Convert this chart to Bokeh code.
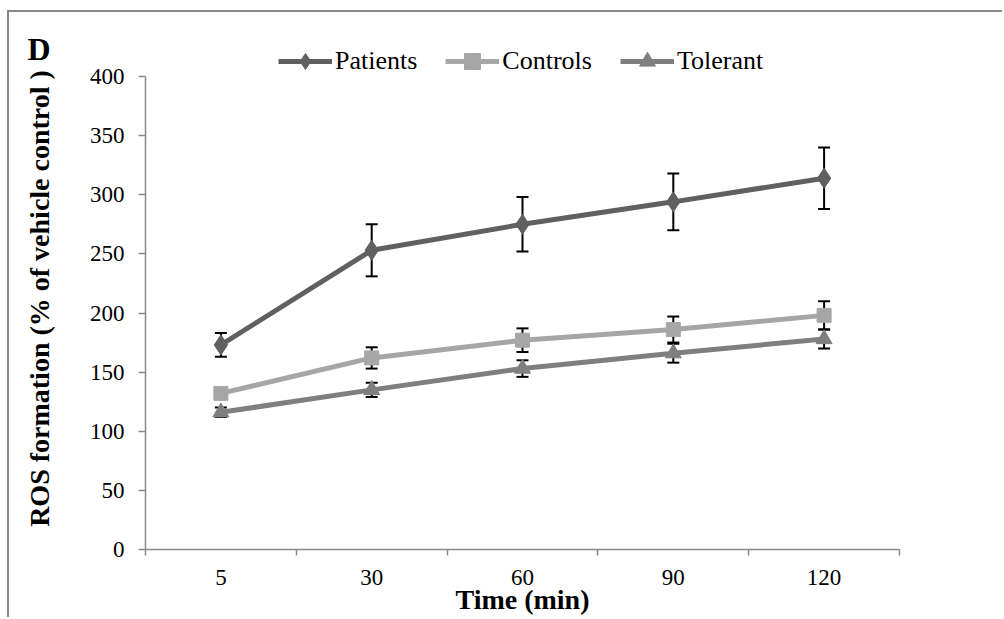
import math
from bokeh.plotting import figure
from bokeh.layouts import row
from bokeh.models import (ColumnDataSource, Whisker, TeeHead, FixedTicker, Legend,
                          LegendItem)
from bokeh.core.properties import value
from bokeh.embed import file_html
from bokeh.resources import INLINE

times = ["5", "30", "60", "90", "120"]
patients = [173, 253, 275, 294, 314]
patients_err = [10, 22, 23, 24, 26]
controls = [132, 162, 177, 186, 198]
controls_err = [3, 9, 10, 11, 12]
tolerant = [116, 135, 153, 166, 178]
tolerant_err = [4, 6, 7, 8, 8]
y_ticks = list(range(0, 401, 50))
panel_letter = "D"
y_title = "ROS formation (% of vehicle control )"
x_title = "Time (min)"

xs = [i + 0.5 for i in range(len(times))]
FONT = "Liberation Serif"
H = 607
TOP, BOTTOM = 15, 70          # shared frame borders of both panels
FRAME_H = H - TOP - BOTTOM    # 522 px
Y_END = 400 * FRAME_H / 473   # 400 sits 473 px above the x axis

# ---- left strip: panel letter and y-axis title (pixel-unit scales) ----
pa = figure(width=79, height=H, output_backend="svg", toolbar_location=None,
            x_range=(0, 79), y_range=(0, FRAME_H),
            min_border_left=0, min_border_right=0, min_border_top=TOP, min_border_bottom=BOTTOM)
pa.margin = (10, 0, 0, 7)
pa.styles = {"border-top": "2px solid #888888", "border-left": "2px solid #888888"}
pa.axis.visible = False
pa.grid.visible = False
pa.outline_line_color = None
pa.border_fill_color = "white"
pa.text(x=[18], y=[501], text=[panel_letter], text_font=value(FONT),
        text_font_size="32px", text_font_style="bold", text_color="black",
        text_align="left", text_baseline="alphabetic")
pa.text(x=[30], y=[251], text=[y_title], angle=math.pi / 2, text_font=value(FONT),
        text_font_size="28px", text_font_style="bold", text_color="black",
        text_align="center", text_baseline="alphabetic")

# ---- main chart ----
p = figure(width=916, height=H, output_backend="svg", toolbar_location=None,
           x_range=(0, len(times)), y_range=(0, Y_END),
           min_border_left=57, min_border_right=103, min_border_top=TOP, min_border_bottom=BOTTOM)
p.margin = (10, 0, 0, 0)
p.styles = {"border-top": "2px solid #888888"}
p.grid.visible = False
p.outline_line_color = None
p.background_fill_color = "white"
p.border_fill_color = "white"

series = [
    ("Patients", patients, patients_err, "#606060", "diamond", 20),
    ("Controls", controls, controls_err, "#a6a6a6", "square", 14),
    ("Tolerant", tolerant, tolerant_err, "#7f7f7f", "triangle", 16),
]

items = []
for name, vals, errs, col, marker, size in series:
    src = ColumnDataSource(dict(x=xs, y=vals,
                                upper=[v + e for v, e in zip(vals, errs)],
                                lower=[v - e for v, e in zip(vals, errs)]))
    w = Whisker(base="x", upper="upper", lower="lower", source=src,
                line_color="black", line_width=2, level="underlay",
                upper_head=TeeHead(size=12, line_color="black", line_width=2),
                lower_head=TeeHead(size=12, line_color="black", line_width=2))
    p.add_layout(w)
    r1 = p.line("x", "y", source=src, line_color=col, line_width=5)
    r2 = p.scatter("x", "y", source=src, marker=marker, size=size,
                   fill_color=col, line_color=col)
    items.append(LegendItem(label=name, renderers=[r1, r2]))

legend = Legend(items=items, orientation="horizontal", location=(133, 468),
                glyph_width=54, glyph_height=40, label_standoff=3, spacing=28,
                padding=0, margin=0, border_line_color=None, background_fill_alpha=0,
                label_text_font=FONT, label_text_font_size="26px", label_text_color="black")
p.add_layout(legend, "center")

# x axis
xa = p.xaxis[0]
xa.ticker = FixedTicker(ticks=xs, minor_ticks=list(range(len(times) + 1)))
xa.major_label_overrides = {x: t for x, t in zip(xs, times)}
xa.bounds = (0, len(times))
xa.major_tick_line_color = None
xa.major_tick_in = 0
xa.major_tick_out = 0
xa.minor_tick_in = 0
xa.minor_tick_out = 6
xa.minor_tick_line_color = "#888888"
xa.minor_tick_line_width = 1.5
xa.axis_line_color = "#888888"
xa.axis_line_width = 1.5
xa.major_label_text_font = FONT
xa.major_label_text_font_size = "23px"
xa.major_label_text_color = "black"
xa.major_label_standoff = 14
xa.axis_label = x_title
xa.axis_label_text_font = FONT
xa.axis_label_text_font_size = "28px"
xa.axis_label_text_font_style = "bold"
xa.axis_label_text_color = "black"
xa.axis_label_standoff = -4

# y axis
ya = p.yaxis[0]
ya.ticker = FixedTicker(ticks=y_ticks)
ya.bounds = (y_ticks[0], y_ticks[-1])
ya.minor_tick_line_color = None
ya.major_tick_in = 0
ya.major_tick_out = 7
ya.major_tick_line_color = "#888888"
ya.major_tick_line_width = 1.5
ya.axis_line_color = "#888888"
ya.axis_line_width = 1.5
ya.major_label_text_font = FONT
ya.major_label_text_font_size = "23px"
ya.major_label_text_color = "black"
ya.major_label_standoff = 14

layout = row(pa, p)
open("out.html", "w").write(file_html(layout, INLINE))
